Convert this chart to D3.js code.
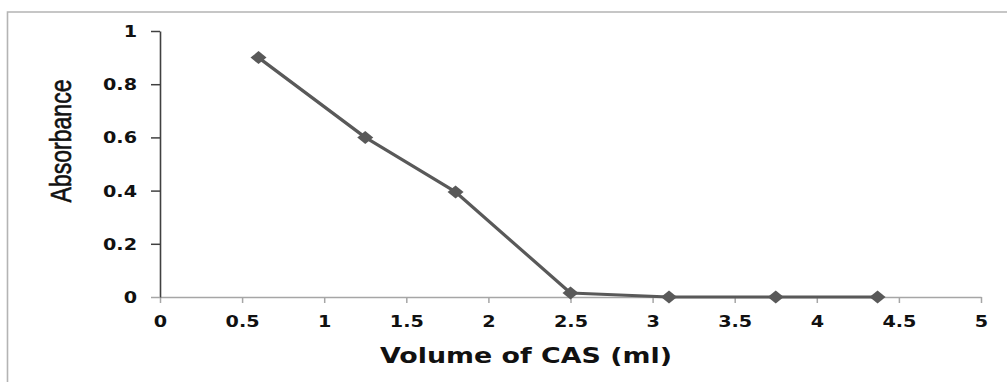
<!DOCTYPE html>
<html>
<head>
<meta charset="utf-8">
<script src="https://cdn.jsdelivr.net/npm/d3@7"></script>
<style>
  html, body { margin: 0; padding: 0; background: #fff; }
  svg { display: block; }
</style>
</head>
<body>
<svg id="chart" width="1007" height="382"></svg>
<script>
// Absorbance versus volume of CAS added
const volumes    = [0.6, 1.25, 1.8, 2.5, 3.1, 3.75, 4.37];
const absorbance = [0.9, 0.6, 0.395, 0.015, 0, 0, 0];
const xTicks = [0, 0.5, 1, 1.5, 2, 2.5, 3, 3.5, 4, 4.5, 5];
const yTicks = [0, 0.2, 0.4, 0.6, 0.8, 1];
const xTitle = "Volume of CAS (ml)";
const yTitle = "Absorbance";

const svg = d3.select("#chart");
const W = 1007, H = 382;
const plot = { left: 160, right: 981, top: 31, bottom: 297 };
const stretch = 1.28;           // horizontal widening of the lettering
const markColor = "#595959";

const x = d3.scaleLinear().domain([0, 5]).range([plot.left, plot.right]);
const y = d3.scaleLinear().domain([0, 1]).range([plot.bottom, plot.top]);

// chart frame (left and top edges)
svg.append("path")
  .attr("d", `M7.5,${H} L7.5,12 L${W},12`)
  .attr("fill", "none")
  .attr("stroke", "#b4b4b4")
  .attr("stroke-width", 1.6);

const tickFont = "'DejaVu Sans', Verdana, sans-serif";

// x axis
const gx = svg.append("g")
  .attr("transform", `translate(0,${plot.bottom})`)
  .call(d3.axisBottom(x).tickValues(xTicks).tickSizeInner(6).tickSizeOuter(0).tickPadding(0)
    .tickFormat(d3.format("")));
gx.select(".domain").attr("stroke", "#a6a6a6").attr("stroke-width", 1.5);
gx.selectAll(".tick line").attr("stroke", "#a6a6a6").attr("stroke-width", 1.5);
gx.selectAll(".tick text")
  .attr("y", 0).attr("dy", null)
  .attr("transform", `translate(0,30) scale(${stretch},1)`)
  .attr("fill", "#111")
  .style("font-family", tickFont)
  .style("font-weight", "bold")
  .style("font-size", "15px");

// y axis
const gy = svg.append("g")
  .attr("transform", `translate(${plot.left},0)`)
  .call(d3.axisLeft(y).tickValues(yTicks).tickSizeInner(9).tickSizeOuter(0).tickPadding(0)
    .tickFormat(d3.format("")));
gy.select(".domain").attr("stroke", "#404040").attr("stroke-width", 1.6);
gy.selectAll(".tick line")
  .attr("stroke", d => d === 0 ? "#a6a6a6" : "#404040")
  .attr("stroke-width", 1.5);
gy.selectAll(".tick text")
  .attr("x", 0).attr("dy", "0.36em")
  .attr("transform", `translate(-23,0) scale(${stretch},1)`)
  .attr("fill", "#111")
  .style("font-family", tickFont)
  .style("font-weight", "bold")
  .style("font-size", "15px");

// x axis title
svg.append("text")
  .attr("x", 526)
  .attr("y", 363)
  .attr("text-anchor", "middle")
  .attr("textLength", 292)
  .attr("lengthAdjust", "spacingAndGlyphs")
  .attr("fill", "#111")
  .style("font-family", tickFont)
  .style("font-weight", "bold")
  .style("font-size", "21px")
  .text(xTitle);

// y axis title (condensed, rotated)
svg.append("text")
  .attr("transform", "translate(71,141) rotate(-90) scale(1,1.25)")
  .attr("text-anchor", "middle")
  .attr("textLength", 123)
  .attr("lengthAdjust", "spacingAndGlyphs")
  .attr("fill", "#111")
  .attr("stroke", "#111")
  .attr("stroke-width", 0.5)
  .style("font-family", "'Liberation Sans', Arial, sans-serif")
  .style("font-size", "23px")
  .text(yTitle);

// data line
const pts = volumes.map((v, i) => [v, absorbance[i]]);
svg.append("path")
  .datum(pts)
  .attr("fill", "none")
  .attr("stroke", markColor)
  .attr("stroke-width", 3.2)
  .attr("stroke-linejoin", "round")
  .attr("d", d3.line().x(d => x(d[0])).y(d => y(d[1])));

// diamond markers
svg.append("g").selectAll("path")
  .data(pts)
  .join("path")
  .attr("transform", d => `translate(${x(d[0])},${y(d[1])})`)
  .attr("d", "M-8,0 L0,-6.5 L8,0 L0,6.5 Z")
  .attr("fill", markColor);
</script>
</body>
</html>
